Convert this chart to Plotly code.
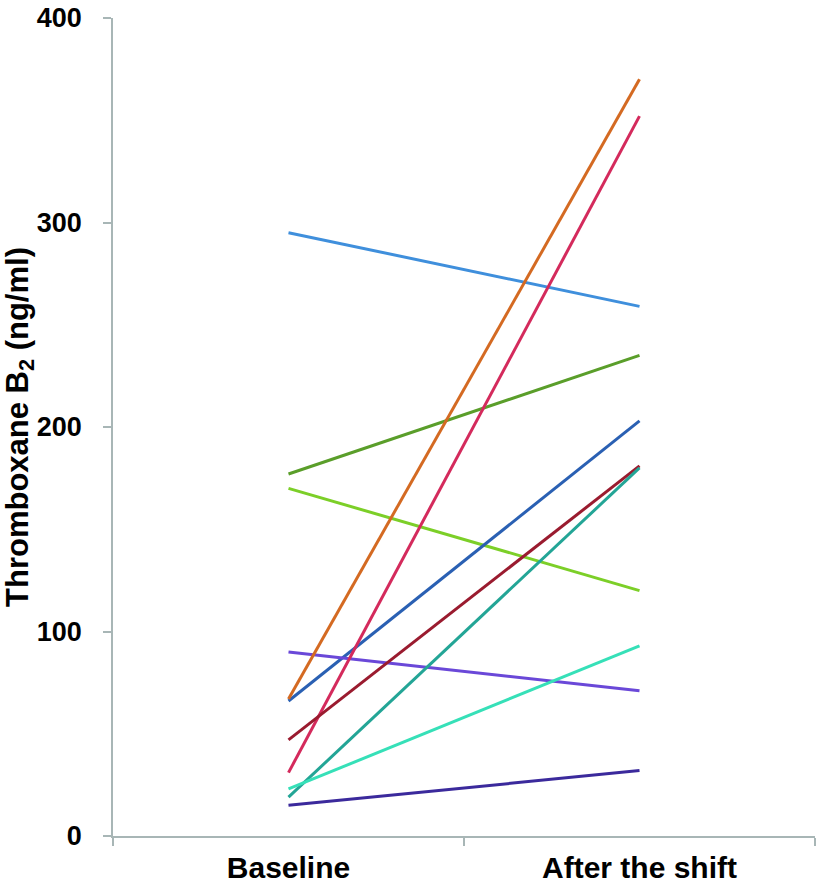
import plotly.graph_objects as go

categories = ["Baseline", "After the shift"]
baseline = [295, 177, 170, 66, 90, 67, 31, 47, 19, 23, 15]
after_shift = [259, 235, 120, 203, 71, 370, 352, 181, 180, 93, 32]
colors = ["#3f8fdc", "#5a9e2a", "#7ccf28", "#2a60b3", "#6a48d8", "#d46a22",
          "#d42a5c", "#9a1b2f", "#23a596", "#36e0b8", "#3b2a9c"]

fig = go.Figure()
for b, a, c in zip(baseline, after_shift, colors):
    fig.add_trace(go.Scatter(x=categories, y=[b, a], mode="lines",
                             line=dict(color=c, width=3), showlegend=False,
                             hoverinfo="skip"))

axis_col = "#a8b6b6"
fig.update_layout(
    width=821, height=885,
    margin=dict(l=113, r=6, t=18, b=49),
    plot_bgcolor="white", paper_bgcolor="white",
    font=dict(family="Liberation Sans, Arial", color="black"),
    xaxis=dict(type="category", range=[-0.5, 1.5], tickson="boundaries",
               ticks="outside", ticklen=8, tickcolor=axis_col, tickwidth=1.5,
               showline=True, linecolor=axis_col, linewidth=1.5, automargin=False,
               showgrid=False, zeroline=False, ticklabelstandoff=4,
               tickfont=dict(size=30, family="Liberation Sans, Arial", weight="bold")),
    yaxis=dict(range=[0, 400], tickvals=[0, 100, 200, 300, 400],
               ticks="outside", ticklen=8, tickcolor=axis_col, tickwidth=1.5,
               showline=True, linecolor=axis_col, linewidth=1.5, automargin=False,
               showgrid=False, zeroline=False, ticklabelstandoff=16,
               ticklabeloverflow="allow",
               tickfont=dict(size=27, family="Liberation Sans, Arial", weight="bold"),
               title=dict(text="Thromboxane B<sub>2</sub> (ng/ml)", standoff=14,
                          font=dict(size=31, family="Liberation Sans, Arial", weight="bold"))),
)
fig.write_html("out.html", config={"displayModeBar": False},
               post_script="document.body.style.margin='0px';")
